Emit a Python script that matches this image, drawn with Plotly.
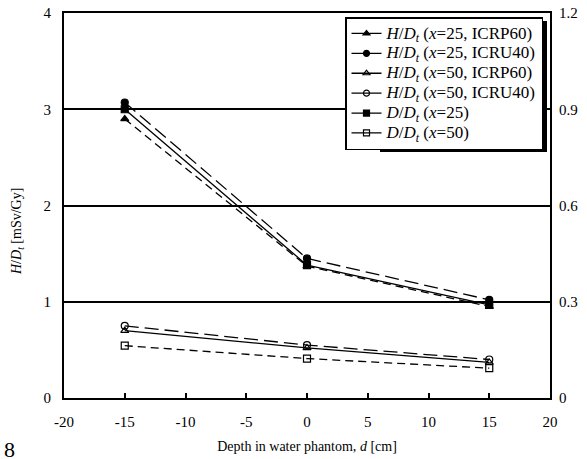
import plotly.graph_objects as go

depth = [-15, 0, 15]

h25_icrp60 = [2.90, 1.37, 0.95]
h25_icru40 = [3.07, 1.45, 1.02]
h50_icrp60 = [0.70, 0.52, 0.37]
h50_icru40 = [0.75, 0.55, 0.40]
d25 = [0.900, 0.414, 0.290]   # right axis
d50 = [0.163, 0.123, 0.093]   # right axis

names = [
    "<i>H</i>/<i>D<sub>t</sub></i> (<i>x</i>=25, ICRP60)",
    "<i>H</i>/<i>D<sub>t</sub></i> (<i>x</i>=25, ICRU40)",
    "<i>H</i>/<i>D<sub>t</sub></i> (<i>x</i>=50, ICRP60)",
    "<i>H</i>/<i>D<sub>t</sub></i> (<i>x</i>=50, ICRU40)",
    "<i>D</i>/<i>D<sub>t</sub></i> (<i>x</i>=25)",
    "<i>D</i>/<i>D<sub>t</sub></i> (<i>x</i>=50)",
]

xticks = [-20, -15, -10, -5, 0, 5, 10, 15, 20]
xticktext = ["-20", "-15", "-10", "-5", "0", "5", "10", "15", "20"]
yticks = [0, 1, 2, 3, 4]
y2ticks = [0, 0.3, 0.6, 0.9, 1.2]
y2ticktext = ["0", "0.3", "0.6", "0.9", "1.2"]

LONG = "14px,6px"
SHORT = "8px,5px"

series = [
    (h25_icrp60, "triangle-up", SHORT, "y"),
    (h25_icru40, "circle", LONG, "y"),
    (h50_icrp60, "triangle-up-open", "solid", "y"),
    (h50_icru40, "circle-open", LONG, "y"),
    (d25, "square", "solid", "y2"),
    (d50, "square-open", SHORT, "y2"),
]

fig = go.Figure()
for (vals, sym, dash, ax), nm in zip(series, names):
    fig.add_trace(go.Scatter(
        x=depth, y=vals, yaxis=ax, mode="lines+markers", showlegend=False,
        line=dict(color="black", width=1.3, dash=dash),
        marker=dict(symbol=sym, size=7, color="black", line=dict(color="black", width=1.2)),
    ))
for (vals, sym, dash, ax), nm in zip(series, names):
    fig.add_trace(go.Scatter(
        x=[None], y=[None], yaxis=ax, mode="lines+markers",
        name='<span style="font-size:17px">' + nm + "</span>",
        line=dict(color="black", width=1.3),
        marker=dict(symbol=sym, size=6, color="black", line=dict(color="black", width=1.2)),
    ))

font = "Liberation Serif"
W, H = 587, 459
L, R, T, B = 64, 37, 13, 61
pw, ph = W - L - R, H - T - B

fig.update_layout(
    width=W, height=H,
    margin=dict(l=L, r=R, t=T, b=B),
    paper_bgcolor="white", plot_bgcolor="white",
    font=dict(family=font, size=15, color="black"),
    xaxis=dict(range=[-20, 20], tickvals=xticks, ticktext=xticktext, automargin=False,
               ticks="inside", ticklen=5, tickwidth=1.5, tickcolor="black",
               showline=True, linecolor="black", linewidth=2, mirror=True,
               showgrid=False, zeroline=False, ticklabelstandoff=9,
               title=dict(text="Depth in water phantom, <i>d</i> [cm]", font=dict(size=14), standoff=12)),
    yaxis=dict(range=[0, 4], tickvals=yticks, ticks="", ticklabelstandoff=8, automargin=False,
               showline=True, linecolor="black", linewidth=2, mirror=True,
               showgrid=True, gridcolor="black", gridwidth=1.5, zeroline=False),
    yaxis2=dict(range=[0, 1.2], tickvals=y2ticks, ticktext=y2ticktext, overlaying="y", side="right",
                automargin=False,
                ticks="", showgrid=False, zeroline=False, showline=False, ticklabelstandoff=8),
    legend=dict(x=(543 - L) / pw, y=(H - B - 17) / ph, xanchor="right", yanchor="top",
                bgcolor="white", bordercolor="black", borderwidth=1.5,
                font=dict(family=font, size=13), itemwidth=30, tracegroupgap=0),
)

anns = [
    dict(text="<i>H</i>/<i>D<sub>t</sub></i> [mSv/Gy]", textangle=-90, px=17, py=232, size=14),
    dict(text="8", px=9, py=449, size=22),
]
for a in anns:
    fig.add_annotation(text=a["text"], textangle=a.get("textangle", 0),
                       x=(a["px"] - L) / pw, y=(H - B - a["py"]) / ph,
                       xref="paper", yref="paper", xanchor="center", yanchor="middle",
                       showarrow=False, font=dict(size=a["size"]))

# legend shadow
fig.add_shape(type="rect", xref="paper", yref="paper",
              x0=(380 - L) / pw, x1=(547 - L) / pw,
              y0=(H - B - 152) / ph, y1=(H - B - 21) / ph,
              fillcolor="black", line=dict(width=0), layer="above")

fig.write_html("out.html")
